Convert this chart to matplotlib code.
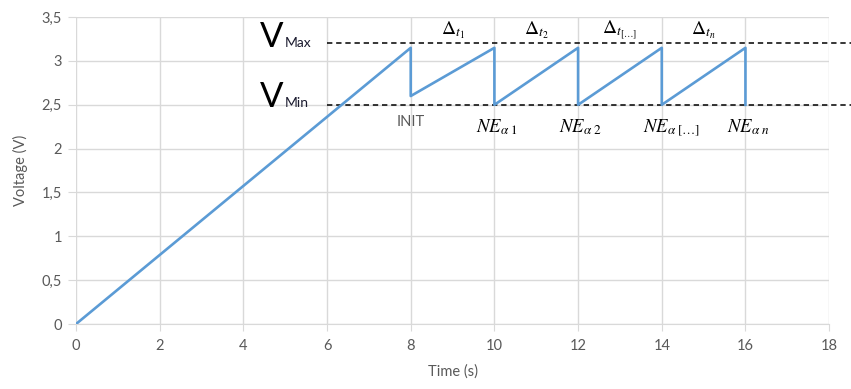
import numpy as np
from matplotlib import pyplot as plt
from matplotlib.ticker import FuncFormatter

# sawtooth charge curve (time in s, voltage in V)
time = [0, 8, 8, 10, 10, 12, 12, 14, 14, 16, 16]
voltage = [0, 3.15, 2.6, 3.15, 2.5, 3.15, 2.5, 3.15, 2.5, 3.15, 2.5]

v_max = 3.2
v_min = 2.5
peaks = [8, 10, 12, 14, 16]
delta_labels = [r'$\Delta_{t_1}$', r'$\Delta_{t_2}$', r'$\Delta_{t_{[\ldots]}}$', r'$\Delta_{t_n}$']
ne_labels = [r'$NE_{\alpha\;1}$', r'$NE_{\alpha\;2}$', r'$NE_{\alpha\;[\ldots]}$', r'$NE_{\alpha\;n}$']

plt.rcParams['font.family'] = ['Lato', 'DejaVu Sans']
plt.rcParams['mathtext.fontset'] = 'stix'

grey = '#595959'
grid = '#d9d9d9'

fig = plt.figure(figsize=(8.51, 3.89), dpi=100)
ax = fig.add_axes([0.0893, 0.167, 0.885, 0.789])

ax.plot(time, voltage, color='#5b9bd5', lw=1.9, zorder=3)

# VMax / VMin reference lines, running past the axes
for v in (v_max, v_min):
    ax.plot([6, 19.5], [v, v], color='black', lw=1.1, ls=(0, (3.5, 2.5)),
            clip_on=False, zorder=2)

ax.text(4.4, v_max - 0.04, 'V', fontsize=25, color='black', va='baseline')
ax.text(5.0, v_max - 0.04, 'Max', fontsize=10, color='#1a1a2e', va='baseline')
ax.text(4.4, v_min - 0.02, 'V', fontsize=25, color='black', va='baseline')
ax.text(5.0, v_min - 0.02, 'Min', fontsize=10, color='#1a1a2e', va='baseline')

ax.text(peaks[0], 2.3, 'INIT', fontsize=10.5, color=grey, ha='center', va='center')

for i, lab in enumerate(delta_labels):
    mid = (peaks[i] + peaks[i + 1]) / 2
    ax.text(mid, 3.35, lab, fontsize=14, ha='center', va='center')

for i, lab in enumerate(ne_labels):
    ax.text(peaks[i + 1] - 0.45, 2.24, lab, fontsize=13.5, ha='left', va='center')

ax.set_xlim(0, 18)
ax.set_ylim(0, 3.5)
ax.set_xticks(np.arange(0, 19, 2))
ax.set_yticks(np.arange(0, 3.51, 0.5))
ax.yaxis.set_major_formatter(FuncFormatter(lambda v, p: ('%g' % v).replace('.', ',')))

ax.grid(True, color=grid, lw=1)
ax.set_axisbelow(True)
for s in ('top', 'right', 'left'):
    ax.spines[s].set_visible(False)
ax.spines['bottom'].set_color(grid)
ax.tick_params(axis='x', length=5, color=grid, labelcolor=grey, labelsize=10.5, pad=6)
ax.tick_params(axis='y', length=6, color=grid, labelcolor=grey, labelsize=10.5, pad=4)

ax.set_xlabel('Time (s)', color=grey, fontsize=10.5, labelpad=8)
ax.set_ylabel('Voltage (V)', color=grey, fontsize=10.5, labelpad=10)

fig.savefig('out.png', dpi=100)
